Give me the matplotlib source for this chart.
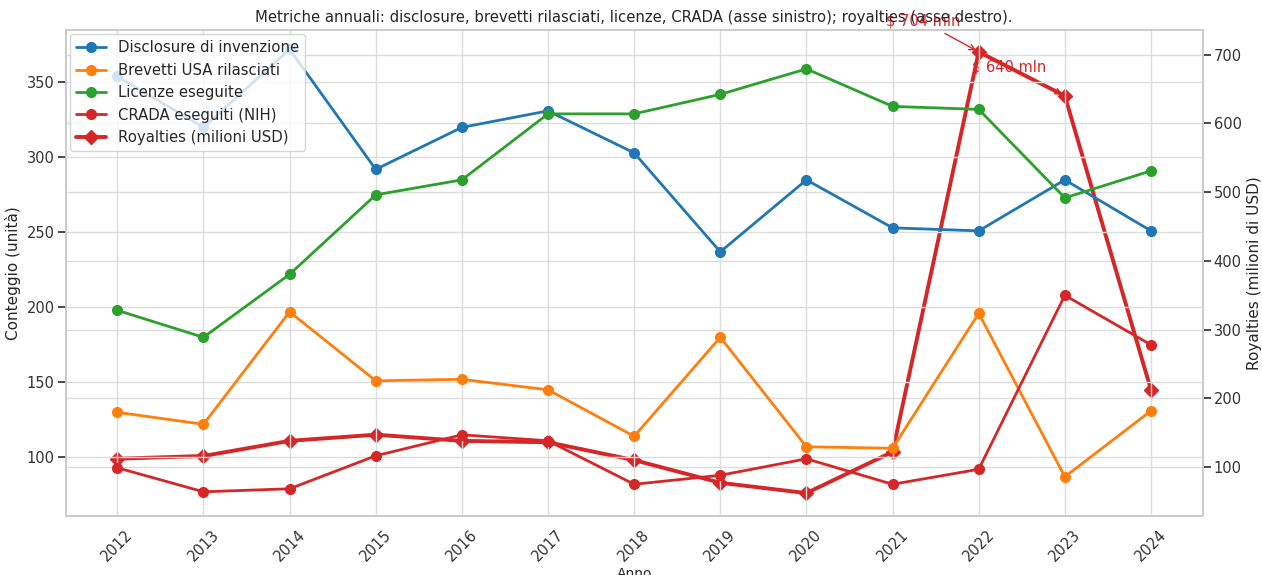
import matplotlib
matplotlib.use("Agg")
import matplotlib.pyplot as plt
import seaborn as sns

years = [2012, 2013, 2014, 2015, 2016, 2017, 2018, 2019, 2020, 2021, 2022, 2023, 2024]
disclosure = [354, 320, 372, 292, 320, 331, 303, 237, 285, 253, 251, 285, 251]
brevetti = [130, 122, 197, 151, 152, 145, 114, 180, 107, 106, 196, 87, 131]
licenze = [198, 180, 222, 275, 285, 329, 329, 342, 359, 334, 332, 273, 291]
crada = [93, 77, 79, 101, 115, 111, 82, 88, 99, 82, 92, 208, 175]
royalties = [112, 116, 138, 147, 138, 136, 110, 77, 62, 122, 704, 640, 212]

sns.set_theme(style="whitegrid")
plt.rcParams['font.family'] = ['DejaVu Sans']

fig = plt.figure(figsize=(12.62, 5.75), dpi=100)
ax = fig.add_axes([0.052, 0.103, 0.901, 0.845])
ax2 = ax.twinx()

c_blue, c_orange, c_green, c_red = '#1f77b4', '#ff7f0e', '#2ca02c', '#d62728'
l1, = ax.plot(years, disclosure, marker='o', color=c_blue, lw=2, ms=7, label='Disclosure di invenzione')
l2, = ax.plot(years, brevetti, marker='o', color=c_orange, lw=2, ms=7, label='Brevetti USA rilasciati')
l3, = ax.plot(years, licenze, marker='o', color=c_green, lw=2, ms=7, label='Licenze eseguite')
l4, = ax.plot(years, crada, marker='o', color=c_red, lw=2, ms=7, label='CRADA eseguiti (NIH)')
l5, = ax2.plot(years, royalties, marker='D', color=c_red, lw=2.8, ms=7.5, label='Royalties (milioni USD)')

ax.set_ylim(61, 385)
ax2.set_ylim(29, 736)
ax.set_yticks([100, 150, 200, 250, 300, 350])
ax2.set_yticks([100, 200, 300, 400, 500, 600, 700])
ax.set_xticks(years)
ax.set_xticklabels([str(y) for y in years], rotation=45)

ax.set_xlabel('Anno', fontsize=10, labelpad=2)
ax.set_ylabel('Conteggio (unità)', fontsize=11)
ax2.set_ylabel('Royalties (milioni di USD)', fontsize=11)
ax.set_title('Metriche annuali: disclosure, brevetti rilasciati, licenze, CRADA (asse sinistro); royalties (asse destro).',
             fontsize=10.7, pad=6)

for a in (ax, ax2):
    a.tick_params(labelsize=10.5, colors='#333333', pad=2)
    for s in a.spines.values():
        s.set_color('#cccccc')
ax2.grid(True, color='#dddddd')
ax.grid(True, color='#dddddd')

ax2.annotate('$ 704 mln', xy=(years[10], royalties[10]), xytext=(years[9] + 0.35, royalties[10] + 38),
             color=c_red, fontsize=10.5, ha='center',
             arrowprops=dict(arrowstyle='->', color=c_red, lw=1))
ax2.annotate('$ 640 mln', xy=(years[11], royalties[11]), xytext=(years[10] + 0.35, royalties[10] - 28),
             color=c_red, fontsize=10.5, ha='center',
             arrowprops=dict(arrowstyle='->', color=c_red, lw=1))

ax.set_zorder(ax2.get_zorder() + 1)
ax.patch.set_visible(False)
leg = ax.legend(handles=[l1, l2, l3, l4, l5], loc='upper left', fontsize=10.7, frameon=True,
                framealpha=0.8, borderaxespad=0.3)

fig.savefig('out.png', dpi=100)
